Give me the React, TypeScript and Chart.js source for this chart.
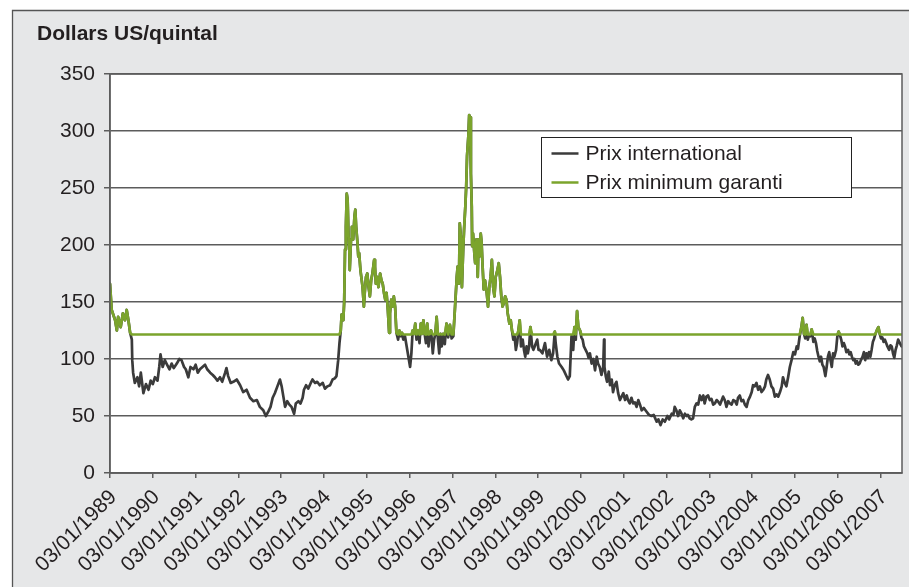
import React, { useEffect, useRef } from "react";
import { Chart, registerables } from "chart.js";

Chart.register(...registerables);

const dates: number[] = [
  1989.00, 1989.04, 1989.12, 1989.16, 1989.19, 1989.25, 1989.30, 1989.35, 1989.39, 1989.43,
  1989.47, 1989.51, 1989.52, 1989.54, 1989.58, 1989.64, 1989.68, 1989.72, 1989.78, 1989.84,
  1989.90, 1989.95, 1990.00, 1990.05, 1990.11, 1990.15, 1990.18, 1990.23, 1990.28, 1990.32,
  1990.39, 1990.44, 1990.49, 1990.56, 1990.62, 1990.67, 1990.73, 1990.77, 1990.83, 1990.88,
  1990.95, 1991.00, 1991.05, 1991.10, 1991.16, 1991.22, 1991.27, 1991.34, 1991.40, 1991.45,
  1991.51, 1991.57, 1991.62, 1991.69, 1991.72, 1991.76, 1991.82,
  1991.88, 1991.96, 1992.04, 1992.11, 1992.19, 1992.27, 1992.35, 1992.43, 1992.50, 1992.58,
  1992.64, 1992.70, 1992.75, 1992.80, 1992.85, 1992.91, 1992.97, 1993.01, 1993.05, 1993.09,
  1993.14, 1993.19, 1993.24, 1993.30, 1993.34, 1993.40, 1993.45, 1993.50, 1993.53, 1993.58,
  1993.63, 1993.69, 1993.73, 1993.79, 1993.84, 1993.90, 1993.97, 1994.02, 1994.08, 1994.14,
  1994.20, 1994.25, 1994.29, 1994.33, 1994.36, 1994.39, 1994.41, 1994.45, 1994.47,
  1994.49, 1994.51, 1994.53, 1994.55, 1994.57, 1994.59, 1994.60, 1994.63, 1994.65, 1994.67,
  1994.68, 1994.71, 1994.73, 1994.75, 1994.78, 1994.80, 1994.82, 1994.85, 1994.87, 1994.90,
  1994.93, 1994.95, 1994.98, 1995.01, 1995.04, 1995.07, 1995.10, 1995.13, 1995.17, 1995.19,
  1995.21, 1995.24, 1995.27, 1995.31, 1995.34, 1995.37, 1995.40, 1995.43, 1995.46, 1995.49,
  1995.52, 1995.54, 1995.57, 1995.60, 1995.63, 1995.66, 1995.69, 1995.73, 1995.76, 1995.79,
  1995.82, 1995.85, 1995.89, 1995.93, 1995.97, 1996.01, 1996.04, 1996.07, 1996.10, 1996.13,
  1996.16, 1996.19, 1996.23, 1996.26, 1996.29, 1996.32, 1996.35, 1996.38, 1996.41, 1996.44,
  1996.47, 1996.50, 1996.54, 1996.57, 1996.60, 1996.63, 1996.66, 1996.69, 1996.72,
  1996.75, 1996.78, 1996.82, 1996.86, 1996.90, 1996.94, 1996.98, 1997.02, 1997.06, 1997.10,
  1997.12, 1997.15, 1997.17, 1997.20, 1997.22, 1997.25, 1997.27, 1997.30, 1997.32, 1997.34,
  1997.37, 1997.39, 1997.41, 1997.43, 1997.45, 1997.46, 1997.48, 1997.51, 1997.53, 1997.56,
  1997.59, 1997.61, 1997.63, 1997.66, 1997.68, 1997.70, 1997.73, 1997.76, 1997.80, 1997.83,
  1997.86, 1997.89, 1997.92, 1997.95, 1997.98, 1998.01, 1998.05, 1998.08, 1998.11, 1998.14,
  1998.17, 1998.20, 1998.23, 1998.26, 1998.29, 1998.33, 1998.36, 1998.39, 1998.42, 1998.45,
  1998.48, 1998.51, 1998.54, 1998.57, 1998.60, 1998.64, 1998.67, 1998.70, 1998.73, 1998.76,
  1998.79, 1998.82, 1998.86, 1998.89, 1998.92, 1998.95, 1998.98, 1999.01,
  1999.04, 1999.10, 1999.16, 1999.21, 1999.26, 1999.31, 1999.35, 1999.39, 1999.41, 1999.45,
  1999.49, 1999.55, 1999.60, 1999.65, 1999.70, 1999.74, 1999.78, 1999.82, 1999.85, 1999.88,
  1999.91, 1999.94, 1999.98, 2000.01, 2000.04, 2000.07, 2000.11, 2000.15, 2000.18, 2000.21,
  2000.25, 2000.29, 2000.33, 2000.37, 2000.40, 2000.44, 2000.48, 2000.52, 2000.54, 2000.55,
  2000.58, 2000.61, 2000.65, 2000.68, 2000.72, 2000.75, 2000.79, 2000.83, 2000.87, 2000.91,
  2000.95, 2000.99, 2001.03, 2001.07, 2001.10, 2001.14, 2001.18, 2001.22, 2001.26, 2001.30,
  2001.34, 2001.38, 2001.42, 2001.47, 2001.53, 2001.59, 2001.65, 2001.70, 2001.77, 2001.81,
  2001.86, 2001.91, 2001.96, 2002.02, 2002.06,
  2002.12, 2002.16, 2002.19, 2002.23, 2002.27, 2002.31, 2002.35, 2002.39, 2002.43, 2002.47,
  2002.50, 2002.54, 2002.58, 2002.62, 2002.66, 2002.70, 2002.74, 2002.78, 2002.82, 2002.86,
  2002.89, 2002.93, 2002.97, 2003.01, 2003.05, 2003.09, 2003.13, 2003.17, 2003.20, 2003.25,
  2003.28, 2003.32, 2003.36, 2003.40, 2003.44, 2003.48, 2003.52, 2003.56, 2003.60, 2003.64,
  2003.67, 2003.71, 2003.75, 2003.79, 2003.83, 2003.87, 2003.91, 2003.95, 2003.99, 2004.02,
  2004.06, 2004.10, 2004.14, 2004.18, 2004.22, 2004.26, 2004.30, 2004.33, 2004.37, 2004.41,
  2004.45, 2004.49, 2004.53, 2004.57, 2004.61, 2004.65,
  2004.69, 2004.72, 2004.76, 2004.80, 2004.84, 2004.88, 2004.92, 2004.96, 2005.00, 2005.04,
  2005.07, 2005.11, 2005.15, 2005.18, 2005.21, 2005.24, 2005.27, 2005.30, 2005.33, 2005.36,
  2005.39, 2005.43, 2005.46, 2005.49, 2005.52, 2005.55, 2005.58, 2005.61, 2005.64, 2005.67,
  2005.71, 2005.74, 2005.77, 2005.80, 2005.83, 2005.86, 2005.89, 2005.92, 2005.96, 2005.99,
  2006.02, 2006.05, 2006.08, 2006.11, 2006.14, 2006.17, 2006.20, 2006.24, 2006.27, 2006.30,
  2006.33, 2006.36, 2006.39, 2006.42, 2006.45, 2006.48, 2006.51, 2006.54, 2006.58, 2006.61,
  2006.64, 2006.67, 2006.70, 2006.73, 2006.76, 2006.79, 2006.82, 2006.85, 2006.88, 2006.92,
  2006.95, 2006.98, 2007.01, 2007.04, 2007.07, 2007.10, 2007.13, 2007.16, 2007.20, 2007.23,
  2007.26, 2007.29, 2007.32, 2007.35, 2007.38, 2007.41, 2007.45, 2007.49,
];

// Prix international (US$/quintal)
const prixInternational: number[] = [
  166, 143, 134, 125, 137, 128, 140, 134, 143, 134,
  123, 117, 99, 88, 79, 84, 76, 88, 70, 78,
  73, 81, 78, 84, 81, 93, 104, 93, 99, 96,
  91, 96, 92, 96, 100, 99, 93, 91, 84, 93,
  91, 95, 88, 91, 93, 95, 91, 88, 86, 84,
  81, 84, 80, 88, 92, 85, 79,
  80, 82, 77, 71, 73, 66, 63, 64, 58, 55,
  50, 54, 58, 66, 70, 76, 82, 76, 67, 58,
  63, 60, 58, 52, 61, 63, 61, 66, 73, 77,
  74, 79, 82, 79, 80, 77, 79, 74, 76, 77,
  82, 83, 85, 99, 114, 125, 139, 134, 150,
  196, 216, 245, 240, 210, 196, 178, 205, 216, 210,
  205, 225, 231, 216, 202, 190, 193, 178, 172, 163,
  146, 158, 172, 175, 163, 155, 169, 175, 187, 181,
  166, 172, 163, 175, 169, 166, 158, 152, 158, 143,
  123, 140, 152, 146, 155, 146, 123, 117, 125, 120,
  123, 117, 120, 111, 102, 93, 105, 125, 122, 131,
  117, 125, 114, 131, 122, 134, 122, 114, 131, 111,
  122, 125, 105, 117, 122, 137, 117, 105, 122,
  111, 122, 113, 131, 119, 130, 118, 120, 146, 172,
  181, 166, 219, 205, 163, 196, 213, 234, 251, 278,
  295, 314, 312, 263, 234, 199, 210, 193, 184, 205,
  172, 205, 190, 210, 202, 184, 161, 169, 158, 146,
  163, 172, 187, 163, 155, 172, 178, 184, 172, 155,
  146, 149, 155, 152, 140, 131, 134, 125, 117, 120,
  108, 114, 125, 134, 111, 117, 108, 102, 111, 105,
  111, 128, 111, 108, 111, 114, 117, 108,
  108, 105, 114, 102, 108, 99, 105, 124, 114, 102,
  96, 93, 90, 86, 82, 85, 120, 108, 128, 117,
  142, 128, 125, 119, 117, 111, 108, 105, 101, 105,
  96, 100, 90, 102, 96, 93, 86, 93, 117, 93,
  85, 80, 89, 77, 82, 71, 77, 80, 70, 64,
  67, 70, 64, 68, 64, 61, 66, 61, 62, 58,
  64, 60, 55, 57, 54, 51, 50, 51, 45, 47,
  42, 47, 45, 50, 47,
  52, 51, 58, 55, 50, 55, 52, 48, 52, 50,
  51, 48, 47, 48, 58, 61, 60, 68, 64, 68,
  61, 67, 68, 64, 65, 60, 61, 64, 63, 60,
  63, 67, 64, 58, 63, 61, 60, 64, 63, 60,
  66, 68, 63, 64, 60, 58, 64, 67, 71, 77,
  76, 79, 73, 76, 71, 73, 76, 82, 86, 82,
  76, 74, 67, 69, 67, 71,
  76, 84, 79, 76, 84, 93, 99, 106, 104, 111,
  109, 120, 128, 136, 122, 118, 130, 117, 121, 120,
  126, 115, 118, 114, 107, 102, 98, 102, 95, 93,
  85, 93, 102, 106, 99, 93, 105, 102, 108, 120,
  124, 121, 117, 111, 114, 111, 106, 108, 104, 106,
  102, 99, 100, 96, 98, 95, 96, 99, 102, 106,
  99, 105, 101, 106, 102, 108, 115, 118, 122, 126,
  128, 122, 118, 119, 115, 117, 114, 111, 108, 112,
  111, 105, 101, 108, 112, 117, 114, 111,
];

// Guaranteed floor price (US$/quintal)
const prixPlancher = 121.5;

const tickYears: number[] = [
  1989, 1990, 1991, 1992, 1993, 1994, 1995, 1996, 1997, 1998,
  1999, 2000, 2001, 2002, 2003, 2004, 2005, 2006, 2007,
];
const tickLabels: string[] = [
  "03/01/1989", "03/01/1990", "03/01/1991", "03/01/1992", "03/01/1993",
  "03/01/1994", "03/01/1995", "03/01/1996", "03/01/1997", "03/01/1998",
  "03/01/1999", "03/01/2000", "03/01/2001", "03/01/2002", "03/01/2003",
  "03/01/2004", "03/01/2005", "03/01/2006", "03/01/2007",
];
const seriesNames: string[] = ["Prix international", "Prix minimum garanti"];
const seriesColors: string[] = ["#3b3b3b", "#7ba42c"];
const unitTitle = "Dollars US/quintal";

const FONT = "'Liberation Sans', Arial, Helvetica, sans-serif";
const TEXT = "#231f20";
const GRID = "#5c5c5c";
const FS = 21;

export default function App() {
  const ref = useRef<HTMLCanvasElement | null>(null);

  useEffect(() => {
    if (!ref.current) return;
    const n = Math.min(dates.length, prixInternational.length);
    const intl = [] as { x: number; y: number }[];
    const garanti = [] as { x: number; y: number }[];
    for (let i = 0; i < n; i++) {
      intl.push({ x: dates[i], y: prixInternational[i] });
      garanti.push({ x: dates[i], y: Math.max(prixInternational[i], prixPlancher) });
    }

    const decor = {
      id: "decor",
      beforeDraw(chart: any) {
        const ctx = chart.ctx as CanvasRenderingContext2D;
        const { left, top, right, bottom } = chart.chartArea;
        ctx.save();
        ctx.fillStyle = "#e6e7e8";
        ctx.fillRect(12, 10, chart.width - 12, chart.height - 10);
        ctx.strokeStyle = "#555";
        ctx.lineWidth = 1.3;
        ctx.beginPath();
        ctx.moveTo(12.5, chart.height);
        ctx.lineTo(12.5, 10.5);
        ctx.lineTo(chart.width, 10.5);
        ctx.stroke();
        ctx.fillStyle = "#ffffff";
        ctx.fillRect(left, top, right - left, bottom - top);
        ctx.fillStyle = TEXT;
        ctx.font = `bold ${FS}px ${FONT}`;
        ctx.textAlign = "left";
        ctx.textBaseline = "alphabetic";
        ctx.fillText(unitTitle, 37, 39.5);
        ctx.restore();
      },
      afterDraw(chart: any) {
        const ctx = chart.ctx as CanvasRenderingContext2D;
        const { left, top, right, bottom } = chart.chartArea;
        ctx.save();
        ctx.strokeStyle = GRID;
        ctx.lineWidth = 1.5;
        ctx.strokeRect(left, top, right - left, bottom - top);

        // rotated date labels under the x axis
        const xs = chart.scales.x;
        ctx.font = `${FS}px ${FONT}`;
        ctx.fillStyle = TEXT;
        ctx.textAlign = "right";
        ctx.textBaseline = "middle";
        tickYears.forEach((yr, i) => {
          const px = xs.getPixelForValue(yr);
          ctx.save();
          ctx.translate(px + 3.5, xs.top + 21);
          ctx.rotate(-Math.PI / 4);
          ctx.fillText(tickLabels[i], 0, 0);
          ctx.restore();
        });

        // legend
        const bx = left + 431.5;
        const by = top + 63.5;
        const bw = 310;
        const bh = 60;
        ctx.fillStyle = "#ffffff";
        ctx.fillRect(bx, by, bw, bh);
        ctx.strokeStyle = "#222";
        ctx.lineWidth = 1;
        ctx.strokeRect(bx, by, bw, bh);
        ctx.font = `${FS}px ${FONT}`;
        ctx.textAlign = "left";
        ctx.textBaseline = "middle";
        seriesNames.forEach((name, i) => {
          const yy = by + 16 + i * 29;
          ctx.strokeStyle = seriesColors[i];
          ctx.lineWidth = 2.5;
          ctx.beginPath();
          ctx.moveTo(bx + 10, yy);
          ctx.lineTo(bx + 37, yy);
          ctx.stroke();
          ctx.fillStyle = TEXT;
          ctx.fillText(name, bx + 44, yy + 1);
        });
        ctx.restore();
      },
    };

    const chart = new Chart(ref.current, {
      type: "line",
      data: {
        datasets: [
          {
            label: seriesNames[0],
            data: intl,
            borderColor: seriesColors[0],
            backgroundColor: seriesColors[0],
            borderWidth: 2.7,
            pointRadius: 0,
            tension: 0,
            order: 2,
          },
          {
            label: seriesNames[1],
            data: garanti,
            borderColor: seriesColors[1],
            backgroundColor: seriesColors[1],
            borderWidth: 2.7,
            pointRadius: 0,
            tension: 0,
            order: 1,
          },
        ],
      },
      options: {
        animation: false,
        responsive: false,
        maintainAspectRatio: false,
        layout: { padding: { top: 74, right: 7, left: 0, bottom: 0 } },
        plugins: {
          legend: { display: false },
          tooltip: { enabled: false },
          title: { display: false },
        },
        elements: { line: { borderJoinStyle: "round", borderCapStyle: "round" } },
        scales: {
          x: {
            type: "linear",
            min: 1989,
            max: 2007.5,
            afterBuildTicks: (scale: any) => {
              scale.ticks = tickYears.map((v) => ({ value: v }));
            },
            afterFit: (scale: any) => {
              scale.height = 114;
            },
            ticks: {
              display: false,
              autoSkip: false,
            },
            grid: {
              drawOnChartArea: false,
              drawTicks: true,
              tickLength: 5,
              color: GRID,
              lineWidth: 1.5,
            },
            border: { display: true, color: GRID, width: 1.5 },
          },
          y: {
            min: 0,
            max: 350,
            afterFit: (scale: any) => {
              scale.width = 110;
            },
            ticks: {
              stepSize: 50,
              padding: 9,
              color: TEXT,
              font: { family: FONT, size: FS },
            },
            grid: {
              color: GRID,
              lineWidth: 1.5,
              tickLength: 6,
              drawTicks: true,
            },
            border: { display: true, color: GRID, width: 1.5 },
          },
        },
      },
      plugins: [decor],
    });
    return () => chart.destroy();
  }, []);

  return (
    <div style={{ position: "absolute", left: 0, top: 0, width: 909, height: 587 }}>
      <canvas ref={ref} width={909} height={587} />
    </div>
  );
}
